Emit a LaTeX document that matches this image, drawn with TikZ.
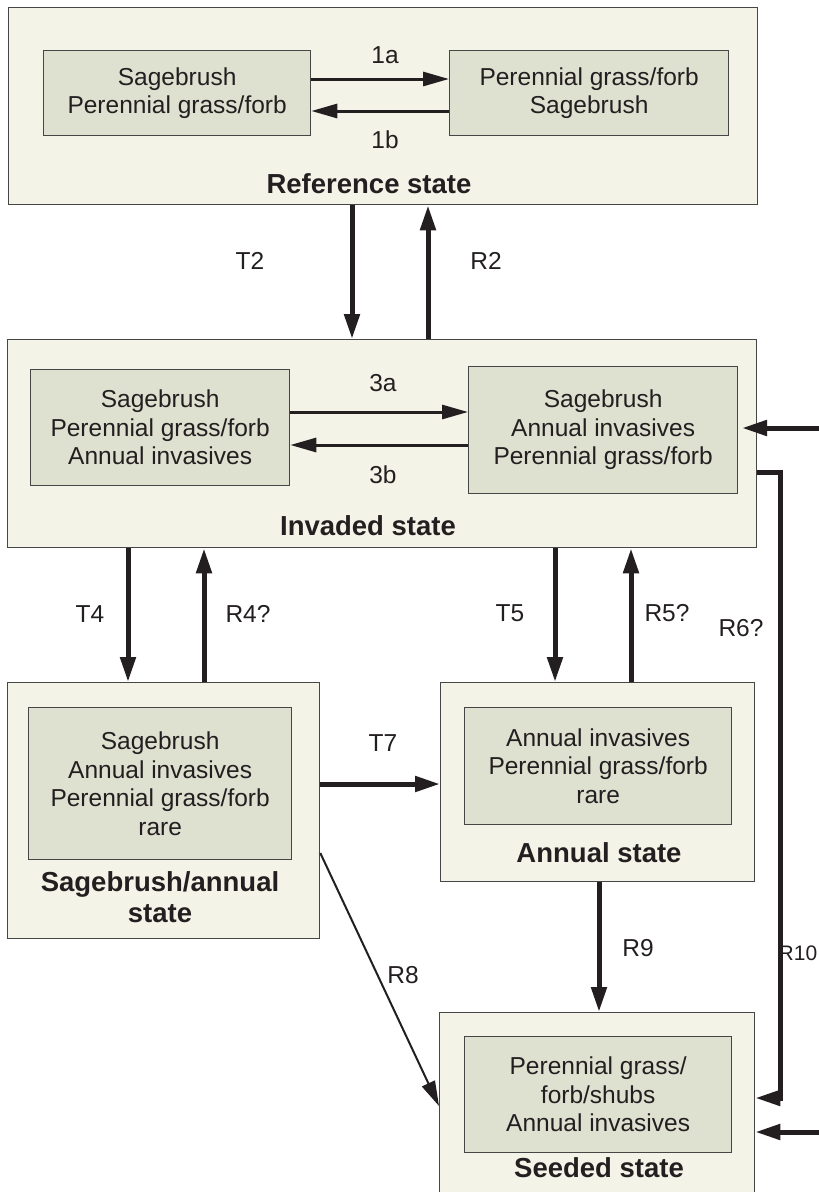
\documentclass[tikz,border=0pt]{standalone}
\usepackage{fontspec}
\setmainfont{Liberation Sans}
\usetikzlibrary{arrows.meta}
\definecolor{outerfill}{RGB}{243,243,232}
\definecolor{innerfill}{RGB}{222,224,208}
\definecolor{edge}{RGB}{70,70,70}
\definecolor{ink}{RGB}{35,31,32}
\begin{document}
\begin{tikzpicture}[x=1pt,y=-1pt,
 outerbox/.style={draw=edge,line width=1.3pt,fill=outerfill,anchor=north west,inner sep=0pt},
 innerbox/.style={draw=edge,line width=1.3pt,fill=innerfill,anchor=north west,inner sep=0pt,
   font=\fontsize{24.5}{28.5}\selectfont,text=ink,align=center},
 title/.style={font=\fontsize{27.5}{31}\selectfont\bfseries,text=ink,inner sep=0pt,anchor=base},
 lbl/.style={font=\fontsize{24.5}{28.5}\selectfont,text=ink,inner sep=0pt},
 big/.style={draw=ink,line width=5pt,-{Triangle[length=25pt,width=15pt]}},
 mid/.style={draw=ink,line width=3pt,-{Triangle[length=26pt,width=14pt]}},
 slim/.style={draw=ink,line width=2pt,-{Triangle[length=25pt,width=14pt]}}]
\path[fill=white,use as bounding box] (0,0) rectangle (819,1192);

% outer state boxes
\node[outerbox,minimum width=749pt,minimum height=197pt] (ref) at (8,7) {};
\node[outerbox,minimum width=749pt,minimum height=208pt] (inv) at (7,339) {};
\node[outerbox,minimum width=312pt,minimum height=256pt] (sa) at (7,682) {};
\node[outerbox,minimum width=314pt,minimum height=199pt] (an) at (440,682) {};
\node[outerbox,minimum width=315pt,minimum height=180pt] (sd) at (439,1012) {};

% inner community boxes
\node[innerbox,minimum width=267pt,minimum height=85pt] (refL) at (43,50) {Sagebrush\\Perennial grass/forb};
\node[innerbox,minimum width=279pt,minimum height=85pt] (refR) at (449,50) {Perennial grass/forb\\Sagebrush};
\node[innerbox,minimum width=259pt,minimum height=116pt] (invL) at (30,369) {Sagebrush\\Perennial grass/forb\\Annual invasives};
\node[innerbox,minimum width=269pt,minimum height=127pt] (invR) at (468,366) {Sagebrush\\Annual invasives\\Perennial grass/forb};
\node[innerbox,minimum width=263pt,minimum height=152pt] (saL) at (28,707) {Sagebrush\\Annual invasives\\Perennial grass/forb\\rare};
\node[innerbox,minimum width=267pt,minimum height=117pt] (anL) at (464,707) {Annual invasives\\Perennial grass/forb\\rare};
\node[innerbox,minimum width=267pt,minimum height=116pt] (sdL) at (464,1036) {Perennial grass/\\forb/shubs\\Annual invasives};

% titles
\node[title] (reft) at (369,193) {Reference state};
\node[title] (invt) at (368,535) {Invaded state};
\node[title] (sat1) at (160,891) {Sagebrush/annual};
\node[title] (sat2) at (160,922) {state};
\node[title] (ant) at (599,862) {Annual state};
\node[title] (sdt) at (599,1177) {Seeded state};

% helper coordinates
\coordinate (y1a) at (0,79);
\coordinate (y1b) at (0,111);
\coordinate (y3a) at (0,412);
\coordinate (y3b) at (0,445);
\coordinate (xT2) at (352,0);
\coordinate (xR2) at (428,0);
\coordinate (xT4) at (128,0);
\coordinate (xR4) at (204,0);
\coordinate (xT5) at (555,0);
\coordinate (xR5) at (631,0);
\coordinate (xR9) at (599,0);
\coordinate (yT7) at (0,784);
\coordinate (r8a) at (0,853);
\coordinate (r8b) at (0,1106);
\coordinate (y6) at (0,472);
\coordinate (x10) at (780,0);
\coordinate (y10) at (0,1098);
\coordinate (e1) at (819,428);
\coordinate (x742) at (742,0);
\coordinate (e2) at (819,1132);

% arrows within states
\draw[mid] (refL.east |- y1a) -- (refR.west |- y1a);
\draw[mid] (refR.west |- y1b) -- (refL.east |- y1b);
\draw[mid] (invL.east |- y3a) -- (invR.west |- y3a);
\draw[mid] (invR.west |- y3b) -- (invL.east |- y3b);

% transitions
\draw[big] (ref.south -| xT2) -- (inv.north -| xT2);
\draw[big] (inv.north -| xR2) -- (ref.south -| xR2);
\draw[big] (inv.south -| xT4) -- (sa.north -| xT4);
\draw[big] (sa.north -| xR4) -- (inv.south -| xR4);
\draw[big] (inv.south -| xT5) -- (an.north -| xT5);
\draw[big] (an.north -| xR5) -- (inv.south -| xR5);
\draw[big] (sa.east |- yT7) -- (an.west |- yT7);
\draw[big] (an.south -| xR9) -- (sd.north -| xR9);
\draw[slim] (sa.east |- r8a) -- (sd.west |- r8b);
\draw[big,line join=miter] (inv.east |- y6) -| (x10 |- y10) -- (sd.east |- y10);
\draw[big] (e1) -- (x742 |- e1);
\draw[big] (e2) -- (sd.east |- e2);

% labels
\node[lbl] (l1a) at (385,55) {1a};
\node[lbl] (l1b) at (385,140) {1b};
\node[lbl] (l3a) at (383,383) {3a};
\node[lbl] (l3b) at (383,475) {3b};
\node[lbl] (lT2) at (250,261) {T2};
\node[lbl] (lR2) at (486,261) {R2};
\node[lbl] (lT4) at (90,614) {T4};
\node[lbl] (lR4) at (248,614) {R4?};
\node[lbl] (lT5) at (510,613) {T5};
\node[lbl] (lR5) at (667,613) {R5?};
\node[lbl] (lR6) at (741,628) {R6?};
\node[lbl] (lT7) at (383,743) {T7};
\node[lbl] (lR8) at (403,975) {R8};
\node[lbl] (lR9) at (638,948) {R9};
\node[lbl,font=\fontsize{21}{24}\selectfont] (lR10) at (798,953) {R10};
\end{tikzpicture}
\end{document}
